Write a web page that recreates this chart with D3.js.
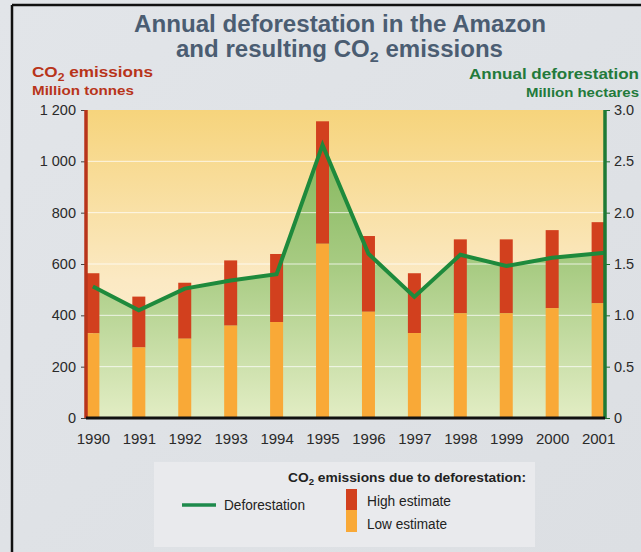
<!DOCTYPE html>
<html><head><meta charset="utf-8">
<script src="https://cdn.jsdelivr.net/npm/d3@7"></script>
<style>body{margin:0;background:#dadde2;font-family:"Liberation Sans",Arial,sans-serif;}</style>
</head><body>
<svg id="c" width="641" height="552"></svg>
<script>
const years = ["1990","1991","1992","1993","1994","1995","1996","1997","1998","1999","2000","2001"];
const lowEstimate  = [330, 275, 309, 360, 374, 679, 414, 331, 408, 408, 428, 447];
const highEstimate = [564, 473, 527, 614, 639, 1156, 709, 564, 696, 696, 732, 763];
const deforestation = [1.28, 1.05, 1.26, 1.34, 1.40, 2.66, 1.60, 1.18, 1.59, 1.48, 1.56, 1.61];
const leftTicks = [0, 200, 400, 600, 800, 1000, 1200];
const rightTicks = [0, 0.5, 1.0, 1.5, 2.0, 2.5, 3.0];

const svg = d3.select("#c");
const L = 86, R = 605, T = 110, B = 418;
const defs = svg.append("defs");
const FONT = "Liberation Sans, Arial, sans-serif";

const bg = defs.append("linearGradient").attr("id","pg").attr("x1",0).attr("y1",0).attr("x2",1).attr("y2",1);
bg.append("stop").attr("offset","0%").attr("stop-color","#e2e5e9");
bg.append("stop").attr("offset","100%").attr("stop-color","#dcdfe3");
svg.append("rect").attr("width",641).attr("height",552).attr("fill","url(#pg)");

const plotG = defs.append("linearGradient").attr("id","plotg").attr("x1",0).attr("y1",0).attr("x2",0).attr("y2",1);
plotG.append("stop").attr("offset","0%").attr("stop-color","#f6d47c");
plotG.append("stop").attr("offset","55%").attr("stop-color","#fbe9c3");
plotG.append("stop").attr("offset","100%").attr("stop-color","#fdf2dc");

const areaG = defs.append("linearGradient").attr("id","areag").attr("gradientUnits","userSpaceOnUse")
  .attr("x1",0).attr("y1",T+40).attr("x2",0).attr("y2",B);
areaG.append("stop").attr("offset","0%").attr("stop-color","#86b85e");
areaG.append("stop").attr("offset","45%").attr("stop-color","#a9cc84");
areaG.append("stop").attr("offset","100%").attr("stop-color","#e2edc4");

const x = d3.scalePoint().domain(years).range([L, R]).padding(0.15);
const yL = d3.scaleLinear().domain([0,1200]).range([B,T]);
const yR = d3.scaleLinear().domain([0,3]).range([B,T]);

// frame
svg.append("line").attr("x1",12).attr("x2",641).attr("y1",5).attr("y2",5).attr("stroke","#111").attr("stroke-width",2.5);
svg.append("line").attr("x1",12).attr("x2",12).attr("y1",5).attr("y2",552).attr("stroke","#111").attr("stroke-width",2.5);

// plot background
svg.append("rect").attr("x",L).attr("y",T).attr("width",R-L).attr("height",B-T).attr("fill","url(#plotg)");

const pts = deforestation;
const px = (d,i)=> i===pts.length-1 ? R : x(years[i]);
svg.append("path").datum(pts)
  .attr("d", d3.area().x(px).y0(B).y1(d=>yR(d)))
  .attr("fill","url(#areag)");

// gridlines
svg.append("g").selectAll("line").data(leftTicks.filter(t=>t>0 && t<1200)).join("line")
  .attr("x1",L).attr("x2",R).attr("y1",d=>yL(d)).attr("y2",d=>yL(d))
  .attr("stroke","#ffffff").attr("stroke-opacity",0.75).attr("stroke-width",1);

// bars
const bw = 13;
const bars = svg.append("g");
bars.selectAll(".hi").data(years).join("rect").attr("class","hi")
  .attr("x",d=>x(d)-bw/2).attr("width",bw)
  .attr("y",(d,i)=>yL(highEstimate[i])).attr("height",(d,i)=>yL(lowEstimate[i])-yL(highEstimate[i]))
  .attr("fill","#d2401e");
bars.selectAll(".lo").data(years).join("rect").attr("class","lo")
  .attr("x",d=>x(d)-bw/2).attr("width",bw)
  .attr("y",(d,i)=>yL(lowEstimate[i])).attr("height",(d,i)=>B-yL(lowEstimate[i]))
  .attr("fill","#f9a937");

// line
svg.append("path").datum(pts)
  .attr("d", d3.line().x(px).y(d=>yR(d)))
  .attr("fill","none").attr("stroke","#1e8a3c").attr("stroke-width",4).attr("stroke-linejoin","miter");

// axes
const axL = svg.append("g").attr("transform",`translate(${L},0)`)
  .call(d3.axisLeft(yL).tickValues(leftTicks).tickSize(5).tickPadding(5).tickFormat(d=>d3.format(",")(d).replace(",", " ")));
axL.select(".domain").remove();
axL.selectAll("line").attr("stroke","#444");
axL.selectAll("text").attr("font-size",14.5).attr("fill","#2a2a2a").attr("font-family",FONT);
svg.append("line").attr("x1",L).attr("x2",L).attr("y1",T).attr("y2",B).attr("stroke","#b8341a").attr("stroke-width",3.5);

const axR = svg.append("g").attr("transform",`translate(${R},0)`)
  .call(d3.axisRight(yR).tickValues(rightTicks).tickSize(5).tickPadding(4).tickFormat(d=>d===0?"0":d3.format(".1f")(d)));
axR.select(".domain").remove();
axR.selectAll("line").attr("stroke","#1e6a30");
axR.selectAll("text").attr("font-size",14.5).attr("fill","#2a2a2a").attr("font-family",FONT);
svg.append("line").attr("x1",R).attr("x2",R).attr("y1",T).attr("y2",B).attr("stroke","#1e7a35").attr("stroke-width",3.5);

const axB = svg.append("g").attr("transform",`translate(0,${B})`)
  .call(d3.axisBottom(x).tickSize(0).tickPadding(15));
axB.select(".domain").remove();
axB.selectAll("text").attr("font-size",15).attr("fill","#2a2a2a").attr("font-family",FONT);
svg.append("line").attr("x1",L).attr("x2",R).attr("y1",B).attr("y2",B).attr("stroke","#111").attr("stroke-width",3);

// helper for fitted text
function fit(sel, len){ return sel.attr("textLength",len).attr("lengthAdjust","spacingAndGlyphs"); }

// titles
const t1 = svg.append("text").attr("x",340).attr("y",32).attr("text-anchor","middle")
  .attr("font-size",23).attr("font-weight","bold").attr("fill","#4b5d72").text("Annual deforestation in the Amazon");
fit(t1, 412);
const t2 = svg.append("text").attr("x",176).attr("y",57)
  .attr("font-size",23).attr("font-weight","bold").attr("fill","#4b5d72");
t2.append("tspan").text("and resulting CO");
t2.append("tspan").attr("font-size",15.5).attr("dy",5).text("2");
t2.append("tspan").attr("dy",-5).text(" emissions");
fit(t2, 327);

const lt = svg.append("text").attr("x",32).attr("y",77).attr("font-size",15.5).attr("font-weight","bold").attr("fill","#b8341a");
lt.append("tspan").text("CO");
lt.append("tspan").attr("font-size",11).attr("dy",4).text("2");
lt.append("tspan").attr("dy",-4).text(" emissions");
fit(lt, 121);
fit(svg.append("text").attr("x",32).attr("y",95).attr("font-size",13).attr("font-weight","bold").attr("fill","#b8341a").text("Million tonnes"), 102);

fit(svg.append("text").attr("x",469).attr("y",79).attr("font-size",15.5).attr("font-weight","bold").attr("fill","#237a3b").text("Annual deforestation"), 170);
fit(svg.append("text").attr("x",526).attr("y",97).attr("font-size",13).attr("font-weight","bold").attr("fill","#237a3b").text("Million hectares"), 113);

// legend
const lg = svg.append("g");
lg.append("rect").attr("x",154).attr("y",462).attr("width",381).attr("height",85).attr("fill","#e9eaed");
const lgt = lg.append("text").attr("x",288).attr("y",482).attr("font-size",13).attr("font-weight","bold").attr("fill","#222");
lgt.append("tspan").text("CO");
lgt.append("tspan").attr("font-size",9).attr("dy",3).text("2");
lgt.append("tspan").attr("dy",-3).text(" emissions due to deforestation:");
fit(lgt, 238);
lg.append("line").attr("x1",182).attr("x2",216).attr("y1",505).attr("y2",505).attr("stroke","#1e8a4c").attr("stroke-width",3.5);
fit(lg.append("text").attr("x",224).attr("y",510).attr("font-size",14).attr("fill","#222").text("Deforestation"), 81);
lg.append("rect").attr("x",346).attr("y",489).attr("width",11).attr("height",21).attr("fill","#d2401e");
lg.append("rect").attr("x",346).attr("y",510).attr("width",11).attr("height",22).attr("fill","#f9a937");
fit(lg.append("text").attr("x",367).attr("y",506).attr("font-size",14).attr("fill","#222").text("High estimate"), 84);
fit(lg.append("text").attr("x",367).attr("y",529).attr("font-size",14).attr("fill","#222").text("Low estimate"), 80);
</script>
</body></html>
